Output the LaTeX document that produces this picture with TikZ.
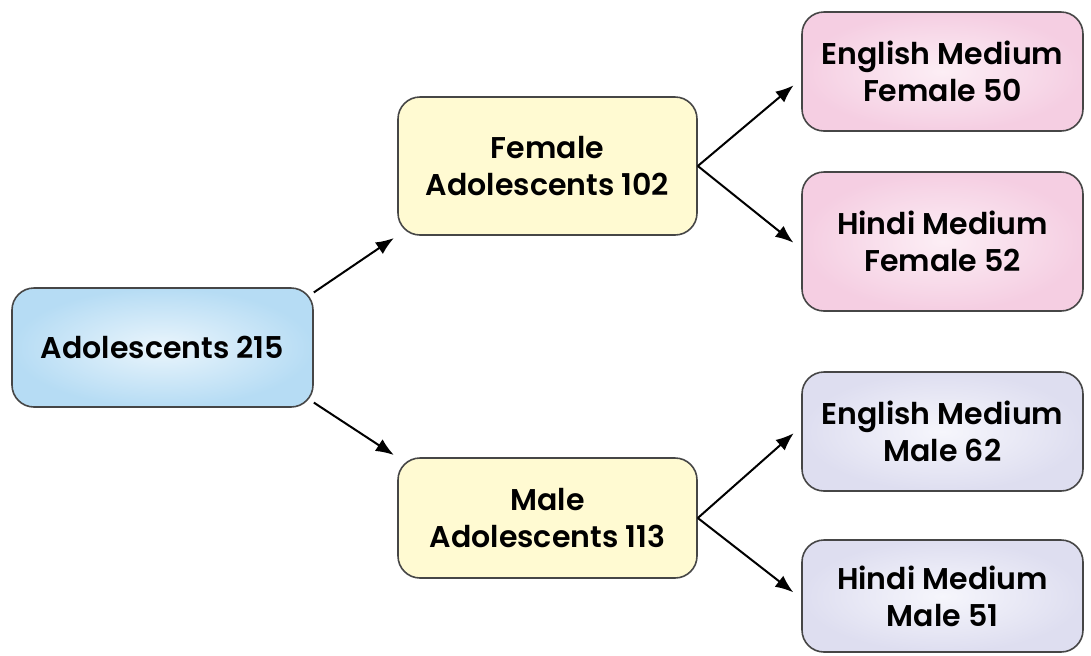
\documentclass[tikz,border=0pt]{standalone}
\usepackage{fontspec}
\setmainfont{Poppins}[BoldFont={Poppins SemiBold}]
\usepackage{tikz}
\usetikzlibrary{arrows.meta}
\usetikzlibrary{shapes}

\definecolor{rootedge}{RGB}{182,220,244}
\definecolor{rootmid}{RGB}{234,245,252}
\definecolor{groupfill}{RGB}{255,250,210}
\definecolor{femedge}{RGB}{245,206,226}
\definecolor{femmid}{RGB}{252,238,245}
\definecolor{maledge}{RGB}{222,222,240}
\definecolor{malmid}{RGB}{246,246,252}
\definecolor{boxline}{RGB}{70,70,70}

\tikzstyle{root}=[
   rectangle,
   rounded corners=11pt,
   line width=0.8pt,
   draw=boxline,
   inner color=rootmid,
   outer color=rootedge,
   align=center,
   minimum width=150.5pt,
   minimum height=59.5pt
]
\tikzstyle{group}=[
   rectangle,
   rounded corners=11pt,
   line width=0.8pt,
   draw=boxline,
   fill=groupfill,
   align=center,
   minimum width=149.5pt
]
\tikzstyle{femleaf}=[
   rectangle,
   rounded corners=11pt,
   line width=0.8pt,
   draw=boxline,
   inner color=femmid,
   outer color=femedge,
   align=center,
   minimum width=140.5pt
]
\tikzstyle{malleaf}=[
   rectangle,
   rounded corners=11pt,
   line width=0.8pt,
   draw=boxline,
   inner color=malmid,
   outer color=maledge,
   align=center,
   minimum width=140.5pt
]

\begin{document}
\begin{tikzpicture}[
         x=0.5pt, y=-0.5pt,
         >={Latex[length=9pt,width=7pt]},
         node distance=192.5pt,
         font=\fontsize{15}{18.5}\selectfont\bfseries
      ]
      \useasboundingbox (0,0) rectangle (1091,655);

      \node (0) [root] at (162.5,347.5) {Adolescents 215};

      \node (1) [group, right of=0, yshift=90.75pt, minimum height=69pt]
         {Female\\Adolescents 102};
      \node (2) [group, right of=0, yshift=-85.25pt, minimum height=60pt]
         {Male\\Adolescents 113};

      \node (3) [femleaf, right of=1, xshift=5pt, yshift=47.25pt, minimum height=59.5pt]
         {English Medium\\Female 50};
      \node (4) [femleaf, right of=1, xshift=5pt, yshift=-37.75pt, minimum height=69.5pt]
         {Hindi Medium\\Female 52};

      \node (5) [malleaf, right of=2, xshift=5pt, yshift=43.25pt, minimum height=59.5pt]
         {English Medium\\Male 62};
      \node (6) [malleaf, right of=2, xshift=5pt, yshift=-39pt, minimum height=56pt]
         {Hindi Medium\\Male 51};

      \path[->, line width=1pt]

      (0.20) edge[shorten >=2pt] (1.south west)
      (0.-20) edge[shorten >=2pt] (2.north west)

      (1.east) edge[shorten >=5pt] (3.183)
               edge[shorten >=5pt] (4.183)

      (2.east) edge[shorten >=5pt] (5.178)
               edge[shorten >=5pt] (6.181)
      ;

   \end{tikzpicture}
\end{document}
